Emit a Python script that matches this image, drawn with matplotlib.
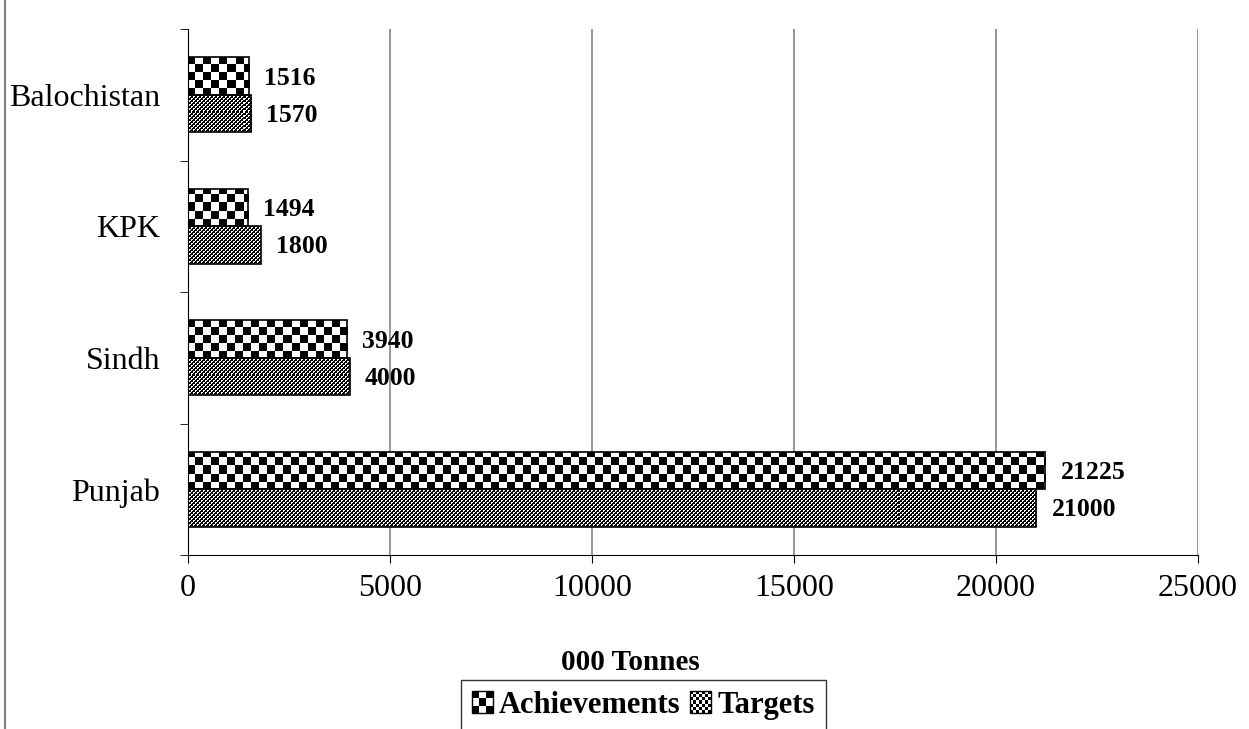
import numpy as np
import matplotlib
matplotlib.use("Agg")
import matplotlib.pyplot as plt
from matplotlib.patches import Rectangle, Patch
from matplotlib.legend_handler import HandlerBase
from matplotlib.lines import Line2D

plt.rcParams['font.family'] = ['Liberation Serif', 'DejaVu Serif']

provinces = ["Punjab", "Sindh", "KPK", "Balochistan"]
achievements = [21225, 3940, 1494, 1516]
targets = [21000, 4000, 1800, 1570]
series_names = ["Achievements", "Targets"]
x_ticks = [0, 5000, 10000, 15000, 20000, 25000]
x_label = "000 Tonnes"

W, H = 1249, 729
fig = plt.figure(figsize=(W / 100, H / 100), dpi=100)
ax = fig.add_axes([188 / W, 1 - 555 / H, (1198 - 188) / W, (555 - 29) / H])

y = np.arange(len(provinces))
bh = 0.285
bars_a = ax.barh(y + bh / 2, achievements, height=bh, facecolor='none',
                 edgecolor='black', linewidth=1.2, zorder=3)
bars_t = ax.barh(y - bh / 2, targets, height=bh, facecolor='none',
                 edgecolor='black', linewidth=1.2, zorder=3)

ax.set_xlim(0, 25000)
ax.set_ylim(-0.5, len(provinces) - 0.5)


def pattern_big(ii, jj):
    return (((ii // 8) + (jj // 8)) % 2).astype(float)


def pattern_fine(ii, jj):
    white_cell = ((ii // 2) + (jj // 2)) % 2 == 1
    corner = (ii % 2 == 1) & (jj % 2 == 1)
    return (white_cell & ~corner).astype(float)


inv = ax.transData.inverted()


def fill_pattern(bar, func):
    x0, y0 = bar.get_x(), bar.get_y()
    x1, y1 = x0 + bar.get_width(), y0 + bar.get_height()
    (px0, py0), (px1, py1) = ax.transData.transform([(x0, y0), (x1, y1)])
    ipx0 = int(np.floor(px0)) - 1
    ipy1 = int(np.ceil(py1)) + 1
    nx = int(np.ceil(px1)) + 2 - ipx0
    ny = ipy1 - (int(np.floor(py0)) - 1)
    (ex0, ey0), (ex1, ey1) = inv.transform([(ipx0, ipy1 - ny), (ipx0 + nx, ipy1)])
    ii, jj = np.meshgrid(np.arange(ny), np.arange(nx), indexing='ij')
    arr = func(ii, jj)
    im = ax.imshow(arr, extent=(ex0, ex1, ey0, ey1), origin='upper',
                   cmap='gray', vmin=0, vmax=1, interpolation='nearest',
                   aspect='auto', zorder=2.5)
    im.set_clip_path(bar)


for b in bars_a:
    fill_pattern(b, pattern_big)
for b in bars_t:
    fill_pattern(b, pattern_fine)

ax.set_xlim(0, 25000)
ax.set_ylim(-0.5, len(provinces) - 0.5)

for b, v in zip(bars_a, achievements):
    ax.annotate(f"{v}", (b.get_width(), b.get_y() + b.get_height() / 2),
                xytext=(15, -2), textcoords='offset pixels', ha='left', va='center',
                fontsize=18.5, fontweight='bold', zorder=5)
for b, v in zip(bars_t, targets):
    ax.annotate(f"{v}", (b.get_width(), b.get_y() + b.get_height() / 2),
                xytext=(15, -2), textcoords='offset pixels', ha='left', va='center',
                fontsize=18.5, fontweight='bold', zorder=5)

# axes styling
for s in ['top', 'right']:
    ax.spines[s].set_visible(False)
ax.spines['left'].set_color('black')
ax.spines['bottom'].set_color('black')
ax.set_xticks(x_ticks)
ax.set_xticklabels([str(t) for t in x_ticks], fontsize=23)
ax.tick_params(axis='x', length=6, direction='out', pad=8, color='black')
ax.set_yticks(y)
ax.set_yticklabels(provinces, fontsize=23)
ax.tick_params(axis='y', which='major', length=0, pad=20)
ax.set_yticks(np.arange(-0.5, len(provinces)), minor=True)
ax.tick_params(axis='y', which='minor', length=6, direction='out', color='black')
ax.xaxis.grid(True, color='#7a7a7a', linewidth=1.1, zorder=0)
ax.set_axisbelow(True)

fig.text(630 / W, 1 - 662 / H, x_label, ha='center', va='center',
         fontsize=21, fontweight='bold')


class CheckerHandler(HandlerBase):
    def __init__(self, n):
        super().__init__()
        self.n = n

    def create_artists(self, legend, orig_handle, xdescent, ydescent, width,
                       height, fontsize, trans):
        size = min(width, height)
        x0 = -xdescent + (width - size) / 2
        y0 = -ydescent + (height - size) / 2
        arts = [Rectangle((x0, y0), size, size, facecolor='white',
                          edgecolor='black', lw=1, transform=trans)]
        c = size / self.n
        for i in range(self.n):
            for j in range(self.n):
                if (i + j) % 2 == 0:
                    arts.append(Rectangle((x0 + i * c, y0 + j * c), c, c,
                                          facecolor='black', edgecolor='none',
                                          transform=trans))
        return arts


h_a = Patch(label=series_names[0])
h_t = Patch(label=series_names[1])
leg = fig.legend([h_a, h_t], series_names, loc='upper left',
                 bbox_to_anchor=(461 / W, 1 - 680 / H), ncol=2,
                 prop={'size': 22, 'weight': 'bold'},
                 handler_map={h_a: CheckerHandler(3), h_t: CheckerHandler(7)},
                 handlelength=0.7, handleheight=0.7, handletextpad=0.2,
                 columnspacing=0.3, borderpad=0.35, borderaxespad=0,
                 fancybox=False, frameon=True)
leg.get_frame().set_edgecolor('black')
leg.get_frame().set_linewidth(1)

fig.add_artist(Line2D([5 / W, 5 / W], [0, 1], color='#808080', lw=1.5,
                      transform=fig.transFigure))

fig.savefig("out.png", dpi=100)
